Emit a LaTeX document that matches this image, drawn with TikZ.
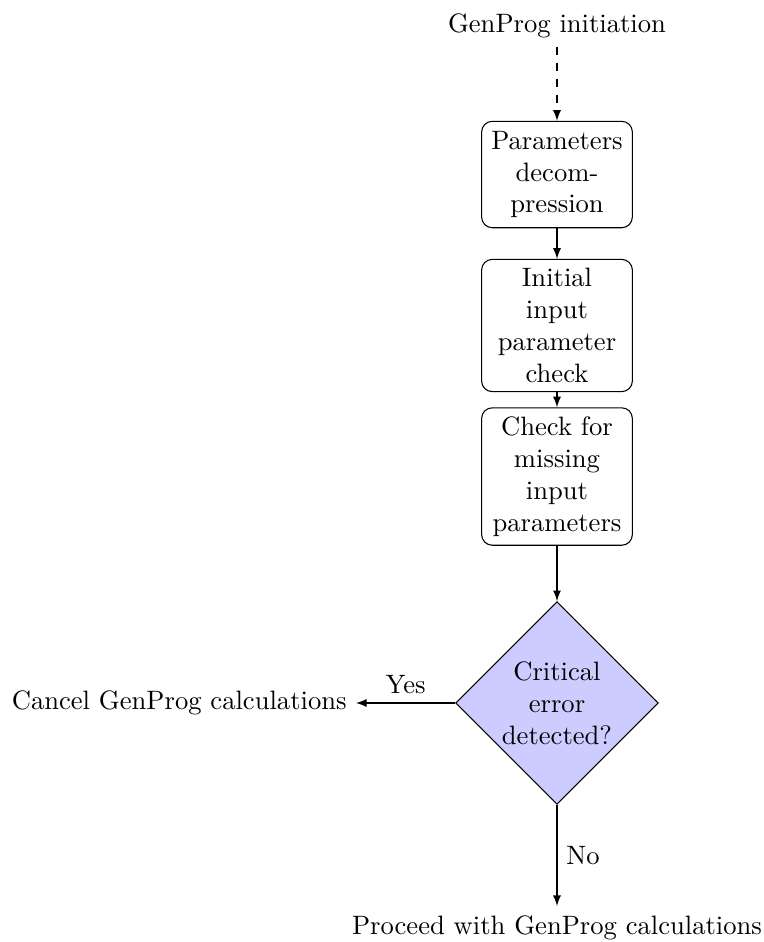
\documentclass[tikz,border=0pt]{standalone}
\usetikzlibrary{shapes.geometric,arrows}
\begin{document}
\begin{tikzpicture}[x=0.3759pt,y=-0.3759pt,
  stepbox/.style={rectangle, draw, text width=5em, align=center, rounded corners, minimum height=4em},
  decision/.style={diamond, draw, fill=blue!20, text width=4.5em, align=center, inner sep=0pt},
  plain/.style={align=center},
  flow/.style={draw, -latex}]
  \useasboundingbox (0,0) rectangle (764,942);
  \node[plain, anchor=base] (init) at (557,32) {GenProg initiation};
  \node[stepbox] (decomp) at (557,174.5) {Parameters decompression};
  \node[stepbox] (initial) at (557,325.5) {Initial input parameter check};
  \node[stepbox] (missing) at (557,476.5) {Check for missing input parameters};
  \node[decision] (crit) at (557,703) {Critical error detected?};
  \node[plain, anchor=east] (cancel) at (356,703) {Cancel GenProg calculations};
  \node[plain, anchor=north] (proceed) at (557,906) {Proceed with GenProg calculations};
  \draw[flow, dashed] (init) -- (decomp);
  \draw[flow] (decomp) -- (initial);
  \draw[flow] (initial) -- (missing);
  \draw[flow] (missing) -- (crit);
  \draw[flow] (crit) -- node[above] {Yes} (cancel);
  \draw[flow] (crit) -- node[right] {No} (proceed);
\end{tikzpicture}
\end{document}
